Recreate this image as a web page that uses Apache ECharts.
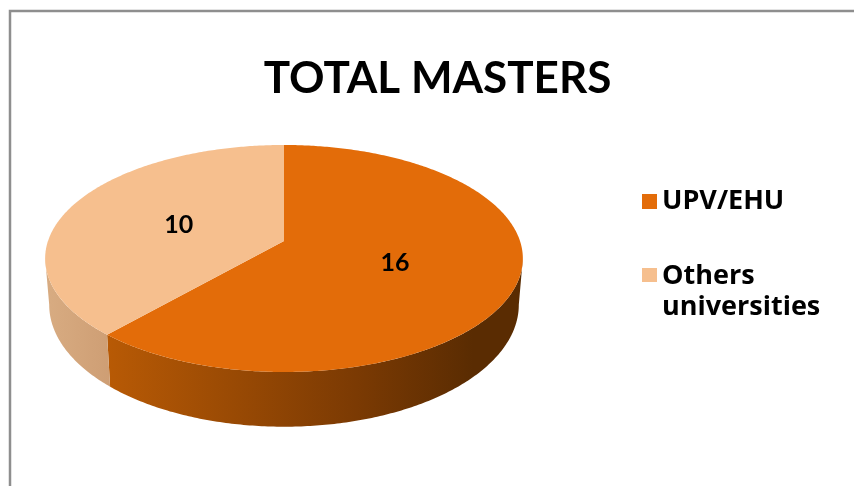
<!DOCTYPE html>
<html>
<head>
<meta charset="utf-8">
<style>html,body{margin:0;padding:0;background:#fff}#c{width:854px;height:486px}</style>
<script src="https://cdn.jsdelivr.net/npm/echarts@6/dist/echarts.min.js"></script>
</head>
<body>
<div id="c"></div>
<script>
var categories = ['UPV/EHU', 'Others universities'];
var values = [16, 10];
var titleText = 'TOTAL MASTERS';

var topColors = ['#E36C09', '#F6BF8E'];
var sideStops = [
  [[0, '#B85A05'], [0.6, '#7B3A03'], [0.88, '#5A2C02'], [1, '#5A2C02']],
  [[0, '#D8AC82'], [1, '#CE9E74']]
];
var FONT = 'Lato';
// perspective disc: projected from a unit circle
var CX = 284, K_TOP = 236, K_BOT = 232, PERSP = -0.154;
var Y0_TOP = 241, DY_TOP = 73.7, Y0_BOT = 286, DY_BOT = 75;
var LABEL_R = 0.49, LABEL_DY = 2.5;
var total = values.reduce(function (a, b) { return a + b; }, 0);
var VIS_FROM = Math.acos(PERSP), VIS_TO = 2 * Math.PI - Math.acos(PERSP);

function proj(theta, r, k, y0, dy) {
  var u = r * Math.sin(theta), v = -r * Math.cos(theta), d = 1 + PERSP * v;
  return [CX + k * u / d, (y0 + dy * v) / d];
}
function arc(a, b, k, y0, dy) {
  var pts = [], n = Math.max(2, Math.ceil(Math.abs(b - a) * 90));
  for (var i = 0; i <= n; i++) pts.push(proj(a + (b - a) * i / n, 1, k, y0, dy));
  return pts;
}
function sliceSeries(idx) {
  var before = values.slice(0, idx).reduce(function (a, b) { return a + b; }, 0);
  return {
    type: 'custom',
    name: categories[idx],
    coordinateSystem: 'none',
    silent: true,
    itemStyle: { color: topColors[idx] },
    data: [[values[idx]]],
    renderItem: function (params, api) {
      var val = api.value(0);
      var a = before / total * 2 * Math.PI, b = (before + val) / total * 2 * Math.PI;
      var children = [];
      var s = Math.max(a, VIS_FROM), e = Math.min(b, VIS_TO);
      if (e > s) {
        var upper = arc(s, e, K_TOP, Y0_TOP, DY_TOP);
        var lower = arc(e, s, K_BOT, Y0_BOT, DY_BOT);
        var side = upper.concat(lower);
        var xs = side.map(function (p) { return p[0]; });
        children.push({
          type: 'polygon',
          shape: { points: side },
          style: {
            fill: new echarts.graphic.LinearGradient(Math.min.apply(null, xs), 0, Math.max.apply(null, xs), 0,
              sideStops[idx].map(function (t) { return { offset: t[0], color: t[1] }; }), true)
          }
        });
      }
      children.push({
        type: 'polygon',
        shape: { points: [proj(0, 0, K_TOP, Y0_TOP, DY_TOP)].concat(arc(a, b, K_TOP, Y0_TOP, DY_TOP)) },
        style: { fill: topColors[idx] }
      });
      var lp = proj((a + b) / 2, LABEL_R, K_TOP, Y0_TOP, DY_TOP);
      children.push({
        type: 'text',
        style: {
          text: String(val), x: lp[0], y: lp[1] + LABEL_DY, align: 'center', verticalAlign: 'middle',
          fill: '#000', font: 'bold 25px ' + FONT
        }
      });
      return { type: 'group', children: children };
    }
  };
}

var legendText = { color: '#000', fontFamily: 'Open Sans', fontWeight: 'bold', fontSize: 27, lineHeight: 31 };
var chart = echarts.init(document.getElementById('c'), null, { renderer: 'canvas' });
chart.setOption({
  animation: false,
  backgroundColor: '#fff',
  title: {
    text: titleText, left: 432.5, top: 52, textAlign: 'center',
    textStyle: { color: '#000', fontFamily: FONT, fontWeight: 'bold', fontSize: 44 }
  },
  legend: [
    {
      left: 637, top: 181, selectedMode: false, data: [categories[0]],
      itemWidth: 15, itemHeight: 15, itemGap: 0, icon: 'rect', textStyle: legendText
    },
    {
      left: 637, top: 256, selectedMode: false, data: [categories[1]],
      itemWidth: 15, itemHeight: 48, itemGap: 0,
      icon: 'path://M0 0H15V14H0Z M0 48L0 48Z',
      textStyle: legendText,
      formatter: function () { return 'Others\nuniversities'; }
    }
  ],
  graphic: [{
    type: 'rect', silent: true, z: -1,
    shape: { x: 10, y: 11, width: 1000, height: 700 },
    style: { fill: 'transparent', stroke: '#8E8E8E', lineWidth: 2.5 }
  }],
  series: [sliceSeries(0), sliceSeries(1)]
});
</script>
</body>
</html>
